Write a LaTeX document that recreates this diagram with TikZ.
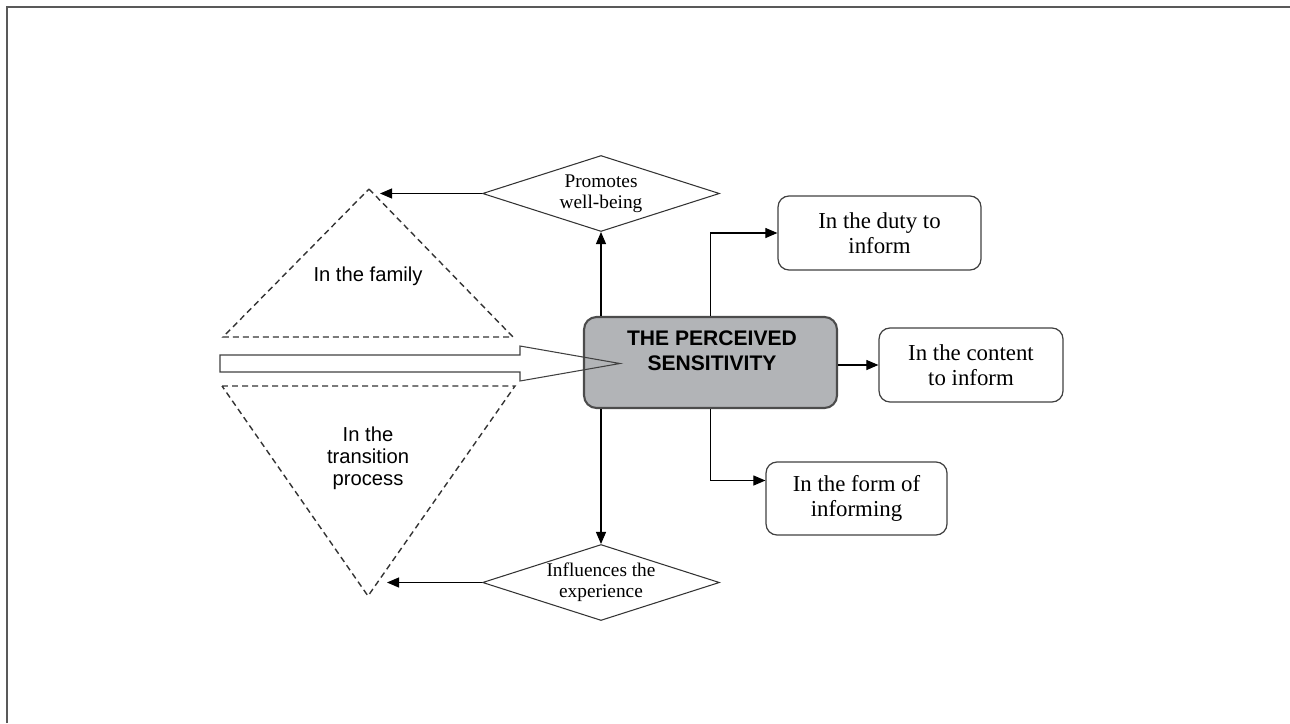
\documentclass[tikz,border=0pt]{standalone}
\usepackage{fontspec}
\setmainfont{Liberation Serif}
\setsansfont{Liberation Sans}
\usetikzlibrary{shapes.geometric,arrows.meta}
\definecolor{sensgray}{HTML}{B2B4B7}

\begin{document}
\begin{tikzpicture}[x=0.02cm,y=-0.02cm]
\tikzstyle{arr}=[draw=black,line width=0.6pt,-{Triangle[length=2.4mm,width=2mm]}]
\tikzstyle{opt}=[draw=black!75,line width=0.7pt,rounded corners=0.22cm,font=\fontsize{13}{14}\selectfont,align=center]
\tikzstyle{effect}=[diamond,draw=black!80,line width=0.6pt,inner sep=0pt,aspect=3.1,minimum width=4.74cm,minimum height=1.52cm,font=\fontsize{11}{12}\selectfont,align=center]
\tikzstyle{tri}=[draw=black!80,line width=0.8pt,dash pattern=on 3.4pt off 2.3pt]
\tikzstyle{area}=[font=\sffamily\fontsize{11.5}{12.5}\selectfont,align=center]
\useasboundingbox (0,0) rectangle (1290,723);
\draw[black!65,line width=1.2pt] (7,723) -- (7,7) -- (1290,7);
\coordinate (famtop) at (369,189);
\coordinate (trantip) at (368,596);
\draw[tri] (famtop) -- (513,337) -- (223,337) -- cycle;
\draw[tri] (222,386) -- (515,386) -- (trantip) -- cycle;
\node[area] (fam) at (368,276) {In the family};
\node[area] (tran) at (368,458) {In the\\transition\\process};
\node[draw=black!70,line width=1.2pt,fill=sensgray,rounded corners=0.25cm,minimum width=5.06cm,minimum height=1.82cm] (sens) at (710.5,362.5) {};
\draw[draw=black!75,line width=0.6pt] (220,355) -- (520,355) -- (520,346) -- (620,363.5) -- (520,381) -- (520,372) -- (220,372) -- cycle;
\node[font=\sffamily\bfseries\fontsize{12}{14}\selectfont,align=center] (senstxt) at (712,351) {THE PERCEIVED\\SENSITIVITY};
\node[effect] (promo) at (601,193.5) {Promotes\\well-being};
\node[effect] (infl) at (601,582.5) {Influences the\\experience};
\node[opt,minimum width=4.06cm,minimum height=1.48cm] (duty) at (879.5,233) {In the duty to\\inform};
\node[opt,minimum width=3.68cm,minimum height=1.48cm] (content) at (971,365) {In the content\\to inform};
\node[opt,minimum width=3.62cm,minimum height=1.46cm] (form) at (856.5,498.5) {In the form of\\informing};
\coordinate (famend) at (380,193.5);
\coordinate (tranend) at (387,582.5);
\draw[arr] (sens.north -| promo.south) -- (promo.south);
\draw[arr] (sens.south -| infl.north) -- (infl.north);
\draw[arr] (promo.west) -- (famend);
\draw[arr] (infl.west) -- (tranend);
\draw[arr] (sens.north) |- (duty.west);
\draw[arr] (sens.east |- content.west) -- (content.west);
\draw[arr] (sens.south) |- ([yshift=0.36cm]form.west);
\end{tikzpicture}
\end{document}
